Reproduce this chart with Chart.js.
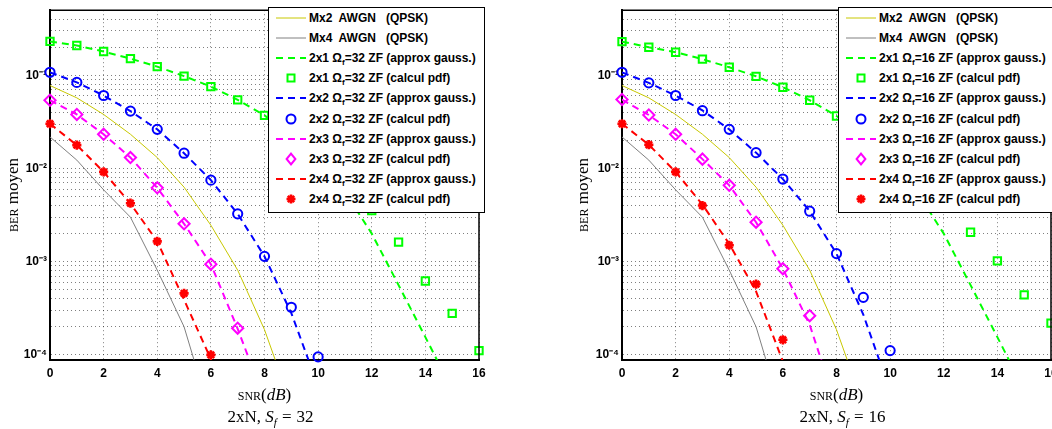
<!DOCTYPE html>
<html>
<head>
<meta charset="utf-8">
<script src="https://cdn.jsdelivr.net/npm/chart.js@4.4.1/dist/chart.umd.min.js"></script>
<style>
  html, body { margin: 0; padding: 0; background: #fff; }
  body { position: relative; width: 1052px; height: 429px; overflow: hidden; }
  .plot { position: absolute; top: 0; height: 429px; }
  .plot canvas { display: block; }
  .legende { position: absolute; top: 7px; height: 206px; background: #fff; border: 1px solid #000;
             box-sizing: border-box; font: bold 12px "Liberation Sans", Arial, Helvetica, sans-serif; color: #000; }
  .legende .rang { position: absolute; left: 0; height: 20px; line-height: 20px; white-space: pre; }
  .legende svg { position: absolute; left: 6px; top: 0; }
  .legende .txt { position: absolute; left: 40px; top: 0; }
  .legende sub { font-size: 8px; vertical-align: -3px; line-height: 0; }
  .serif { position: absolute; font: 17px "Liberation Serif", "DejaVu Serif", serif; line-height: 20px; color: #000;
           white-space: nowrap; text-align: center; }
  .sc { font-variant: small-caps; }
  .ylab { width: 200px; height: 20px; transform: rotate(-90deg); }
  .eg { margin: 0 5px; }
</style>
</head>
<body>
<div class="plot" id="p32" style="left:0; width:526px;"><canvas id="c32" width="526" height="429"></canvas></div>
<div class="plot" id="p16" style="left:526px; width:540px;"><canvas id="c16" width="540" height="429"></canvas></div>

<div class="serif ylab" style="left:-87px; top:185px;"><span class="sc">ber</span> moyen</div>
<div class="serif ylab" style="left:483px; top:185px;"><span class="sc">ber</span> moyen</div>
<div class="serif" style="left:50px; width:429px; top:385px;"><span class="sc">snr</span>(<i>dB</i>)</div>
<div class="serif" style="left:622px; width:429px; top:385px;"><span class="sc">snr</span>(<i>dB</i>)</div>
<div class="serif" style="left:56px; width:429px; top:407px;">2xN, <i>S<sub style="font-size:11px">f</sub></i><span class="eg">=</span>32</div>
<div class="serif" style="left:628px; width:429px; top:407px;">2xN, <i>S<sub style="font-size:11px">f</sub></i><span class="eg">=</span>16</div>

<div class="legende" id="leg32" style="left:268px; width:217px;"></div>
<div class="legende" id="leg16" style="left:838px; width:215px;"></div>

<script>
// abscisses (SNR en dB)
const snr = [0, 1, 2, 3, 4, 5, 6, 7, 8, 9, 10, 11, 12, 13, 14, 15, 16];
const snrTicks = [0, 2, 4, 6, 8, 10, 12, 14, 16];

// graduations de l'axe BER (grille log)
const berTicks = [
  1e-4, 2e-4, 3e-4, 4e-4, 5e-4, 6e-4, 7e-4, 8e-4, 9e-4,
  1e-3, 2e-3, 3e-3, 4e-3, 5e-3, 6e-3, 7e-3, 8e-3, 9e-3,
  1e-2, 2e-2, 3e-2, 4e-2, 5e-2, 6e-2, 7e-2, 8e-2, 9e-2,
  0.1, 0.2, 0.3, 0.4
];

// courbes de référence AWGN (identiques pour les deux figures)
const awgnMx2 = [0.0777, 0.0573, 0.038, 0.0233, 0.0131, 0.0063, 0.00246, 8.1e-4, 1.86e-4, 2.9e-5];
const awgnMx4 = [0.0218, 0.0123, 0.0059, 0.003, 8.1e-4, 2.0e-4, 2.2e-5];

// Sf = 32
const gauss32_2x1 = [0.231, 0.209, 0.180, 0.151, 0.124, 0.098, 0.0757, 0.0546, 0.0372, 0.0224, 0.0118, 0.0056, 0.0020, 5.6e-4, 1.55e-4, 4.2e-5];
const pdf32_2x1   = [0.231, 0.209, 0.180, 0.151, 0.124, 0.098, 0.0757, 0.0546, 0.0372, null, null, null, 0.00354, 0.00162, 6.2e-4, 2.79e-4, 1.11e-4];
const gauss32_2x2 = [0.1077, 0.084, 0.0607, 0.0413, 0.0263, 0.0146, 0.0075, 0.00326, 0.00114, 2.8e-4, 4.6e-5];
const pdf32_2x2   = [0.1077, 0.084, 0.0607, 0.0413, 0.0263, 0.0146, 0.0075, 0.00326, 0.00114, 3.24e-4, 9.5e-5];
const gauss32_2x3 = [0.054, 0.038, 0.0233, 0.0131, 0.0062, 0.00255, 9.4e-4, 1.9e-4, 3.3e-5];
const pdf32_2x3   = [0.054, 0.038, 0.0233, 0.0131, 0.0062, 0.00255, 9.4e-4, 1.93e-4];
const gauss32_2x4 = [0.0302, 0.0178, 0.0092, 0.0042, 0.00165, 3.9e-4, 9e-5, 1.2e-5];
const pdf32_2x4   = [0.0302, 0.0178, 0.0092, 0.00424, 0.00165, 4.57e-4, 1.0e-4];

// Sf = 16
const gauss16_2x1 = [0.23, 0.2, 0.177, 0.149, 0.122, 0.0976, 0.0745, 0.054, 0.0366, 0.0222, 0.0117, 0.0056, 0.002, 5.6e-4, 1.55e-4, 4.2e-5];
const pdf16_2x1   = [0.23, 0.2, 0.177, 0.149, 0.122, 0.0976, 0.0745, 0.054, 0.0366, null, null, null, null, 0.00207, 0.00102, 4.4e-4, 2.19e-4];
const gauss16_2x2 = [0.1077, 0.083, 0.0607, 0.042, 0.0263, 0.0148, 0.0077, 0.0035, 0.00122, 2.7e-4, 4.1e-5];
const pdf16_2x2   = [0.1077, 0.083, 0.0607, 0.0417, 0.0263, 0.0148, 0.0077, 0.00348, 0.00122, 4.14e-4, 1.11e-4];
const gauss16_2x3 = [0.055, 0.0375, 0.0233, 0.0126, 0.0066, 0.00265, 8.4e-4, 2.1e-4, 2.8e-5];
const pdf16_2x3   = [0.055, 0.0375, 0.0233, 0.0126, 0.0066, 0.00265, 8.4e-4, 2.63e-4];
const gauss16_2x4 = [0.0302, 0.018, 0.0092, 0.0041, 0.00155, 4.8e-4, 8.5e-5, 1e-5];
const pdf16_2x4   = [0.0302, 0.018, 0.0092, 0.004, 0.0015, 5.74e-4, 1.45e-4];

const configs = ['2x1', '2x2', '2x3', '2x4'];
const couleurs = ['#00ff00', '#0000ff', '#ff00ff', '#ff0000'];
const marqueurs = ['carre', 'rond', 'losange', 'etoile'];
const tirets = [7, 5];

const pts = vals => vals.map((v, i) => ({ x: snr[i], y: v }));

const styleChart = {
  carre:   { pointStyle: 'rect', pointRadius: 5.2 },
  rond:    { pointStyle: 'circle', pointRadius: 4.6 },
  losange: { pointStyle: 'rectRot', pointRadius: 5.6 },
  etoile:  { pointStyle: 'star', pointRadius: 4.6 }
};

function construireSeries(sf, gauss, pdf) {
  const items = [
    { label: 'Mx2  AWGN   (QPSK)', type: 'ligne', couleur: '#c8c800', epaisseur: 1, data: awgnMx2 },
    { label: 'Mx4  AWGN   (QPSK)', type: 'ligne', couleur: '#808080', epaisseur: 1, data: awgnMx4 }
  ];
  configs.forEach((c, k) => {
    items.push({ label: `${c} Ω<sub>f</sub>=${sf} ZF (approx gauss.)`, type: 'ligne', couleur: couleurs[k], epaisseur: 2, tirets: tirets, data: gauss[k] });
    items.push({ label: `${c} Ω<sub>f</sub>=${sf} ZF (calcul pdf)`, type: 'marqueur', couleur: couleurs[k], marqueur: marqueurs[k], data: pdf[k] });
  });
  return items;
}

function versDatasets(items) {
  return items.map((it, i) => {
    const base = { label: it.label.replace(/<\/?sub>/g, ''), data: pts(it.data), order: -i };
    if (it.type === 'ligne') {
      return Object.assign(base, {
        showLine: true, pointRadius: 0, borderColor: it.couleur, borderWidth: it.epaisseur,
        borderDash: it.tirets || [], tension: 0, fill: false
      });
    }
    const st = styleChart[it.marqueur];
    return Object.assign(base, {
      showLine: false, clip: false, pointStyle: st.pointStyle, pointRadius: st.pointRadius,
      borderColor: it.couleur, pointBorderWidth: it.marqueur === 'etoile' ? 2.6 : 2,
      backgroundColor: it.marqueur === 'etoile' ? it.couleur : 'rgba(0,0,0,0)'
    });
  });
}

function symbole(it) {
  const c = it.couleur;
  if (it.type === 'ligne') {
    const d = it.tirets ? `stroke-dasharray="${it.tirets.join(',')}"` : '';
    return `<svg width="32" height="20"><line x1="1" y1="10" x2="31" y2="10" stroke="${c}" stroke-width="${it.epaisseur}" ${d}/></svg>`;
  }
  let forme = '';
  if (it.marqueur === 'carre') forme = `<rect x="12.5" y="6.5" width="7" height="7" fill="none" stroke="${c}" stroke-width="2"/>`;
  if (it.marqueur === 'rond') forme = `<circle cx="16" cy="10" r="4.5" fill="none" stroke="${c}" stroke-width="2"/>`;
  if (it.marqueur === 'losange') forme = `<polygon points="16,4.6 20.4,10 16,15.4 11.6,10" fill="none" stroke="${c}" stroke-width="2"/>`;
  if (it.marqueur === 'etoile') forme = `<path d="M11.5 10H20.5M16 5.5V14.5M12.8 6.8L19.2 13.2M12.8 13.2L19.2 6.8" stroke="${c}" stroke-width="2.6"/>`;
  return `<svg width="32" height="20">${forme}</svg>`;
}

function remplirLegende(id, items) {
  const el = document.getElementById(id);
  el.innerHTML = items.map((it, i) =>
    `<div class="rang" style="top:${(i * 20.1).toFixed(1)}px">${symbole(it)}<span class="txt">${it.label}</span></div>`
  ).join('');
}

const exposants = { '-': '⁻', '0': '⁰', '1': '¹', '2': '²', '3': '³', '4': '⁴', '5': '⁵' };

const cadre = {
  id: 'cadre',
  afterDatasetsDraw(chart) {
    const { ctx, chartArea: a } = chart;
    ctx.save();
    ctx.strokeStyle = '#000';
    ctx.lineWidth = 1.5;
    ctx.beginPath();
    ctx.moveTo(a.left, a.top);
    ctx.lineTo(a.right, a.top);
    ctx.lineTo(a.right, a.bottom);
    ctx.stroke();
    ctx.restore();
  }
};

function creerGraphique(canvasId, items, padLeft, padRight) {
  const ctx = document.getElementById(canvasId).getContext('2d');
  const policeTicks = { family: '"Liberation Sans", Arial, Helvetica, sans-serif', size: 12, weight: 'bold' };
  return new Chart(ctx, {
    type: 'scatter',
    data: { datasets: versDatasets(items) },
    plugins: [cadre],
    options: {
      responsive: false,
      animation: false,
      events: [],
      layout: { padding: { left: padLeft, right: padRight, top: 9, bottom: 0 } },
      plugins: { legend: { display: false }, tooltip: { enabled: false } },
      scales: {
        x: {
          type: 'linear', min: 0, max: 16,
          afterBuildTicks: s => { s.ticks = snrTicks.map(v => ({ value: v })); },
          afterFit: s => { s.height = 69; },
          grid: { color: 'rgba(0,0,0,0.5)', lineWidth: 1, drawTicks: false },
          border: { color: '#000', width: 2, dash: [1, 3] },
          ticks: { color: '#000', font: policeTicks, padding: 6, maxRotation: 0, autoSkip: false }
        },
        y: {
          type: 'logarithmic', min: 8.8e-5, max: 0.5,
          afterBuildTicks: s => { s.ticks = berTicks.map(v => ({ value: v })); },
          afterFit: s => { s.width = 50; },
          grid: { color: 'rgba(0,0,0,0.5)', lineWidth: 1, drawTicks: false },
          border: { color: '#000', width: 2, dash: [1, 3] },
          ticks: {
            color: '#000', font: policeTicks, padding: 3, autoSkip: false,
            callback: v => {
              const e = Math.log10(v);
              if (Math.abs(e - Math.round(e)) > 1e-6) return '';
              return '10' + String(Math.round(e)).split('').map(ch => exposants[ch]).join('');
            }
          }
        }
      }
    }
  });
}

const series32 = construireSeries(32,
  [gauss32_2x1, gauss32_2x2, gauss32_2x3, gauss32_2x4],
  [pdf32_2x1, pdf32_2x2, pdf32_2x3, pdf32_2x4]);
const series16 = construireSeries(16,
  [gauss16_2x1, gauss16_2x2, gauss16_2x3, gauss16_2x4],
  [pdf16_2x1, pdf16_2x2, pdf16_2x3, pdf16_2x4]);

creerGraphique('c32', series32, 0, 47);
creerGraphique('c16', series16, 46, 15);
remplirLegende('leg32', series32);
remplirLegende('leg16', series16);
</script>
</body>
</html>
